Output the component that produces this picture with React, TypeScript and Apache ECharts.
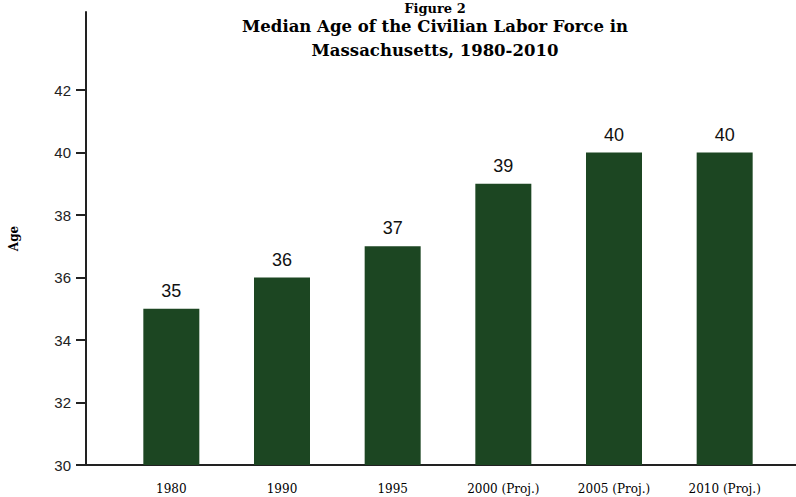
import React, { useEffect, useRef } from "react";
import * as echarts from "echarts";

const categories = ["1980", "1990", "1995", "2000 (Proj.)", "2005 (Proj.)", "2010 (Proj.)"];
const medianAge = [35, 36, 37, 39, 40, 40];
const yTicks = [30, 32, 34, 36, 38, 40, 42];
const figureLabel = "Figure 2";
const titleLines = ["Median Age of the Civilian Labor Force in", "Massachusetts, 1980-2010"];

const AXIS_COLOR = "#222";

export default function App() {
  const ref = useRef<HTMLDivElement>(null);
  useEffect(() => {
    if (!ref.current) return;
    const chart = echarts.init(ref.current, undefined, { renderer: "svg" });
    const titleStyle = {
      fontFamily: "DejaVu Serif",
      fontWeight: "bold" as const,
      fontSize: 16.5,
      lineHeight: 24,
      color: "#000",
    };
    chart.setOption({
      animation: false,
      backgroundColor: "#fff",
      title: [
        {
          text: figureLabel,
          left: 435,
          top: 1,
          textAlign: "center",
          padding: 0,
          textStyle: { ...titleStyle, fontSize: 13, lineHeight: 14 },
        },
        {
          text: titleLines.join("\n"),
          left: 435,
          top: 14,
          textAlign: "center",
          padding: 0,
          textStyle: titleStyle,
        },
      ],
      grid: { left: 111, right: 16, top: 12, bottom: 32 },
      xAxis: {
        type: "category",
        data: categories,
        axisLine: { lineStyle: { color: AXIS_COLOR, width: 2 } },
        axisTick: { show: false },
        axisLabel: {
          margin: 18,
          fontFamily: "DejaVu Serif",
          fontSize: 12,
          color: "#000",
        },
      },
      yAxis: {
        type: "value",
        min: 30,
        max: 44.5,
        interval: 2,
        offset: 30,
        name: "Age",
        nameLocation: "middle",
        nameRotate: 90,
        nameGap: 66,
        nameTextStyle: {
          fontFamily: "DejaVu Serif",
          fontWeight: "bold",
          fontSize: 12,
          color: "#000",
        },
        splitLine: { show: false },
        axisLine: { show: true, lineStyle: { color: AXIS_COLOR, width: 2 } },
        axisTick: {
          show: true,
          length: 10,
          customValues: yTicks,
          lineStyle: { color: AXIS_COLOR, width: 2 },
        },
        axisLabel: {
          customValues: yTicks,
          margin: 15,
          fontFamily: "Liberation Sans",
          fontSize: 15,
          color: "#222",
        },
      },
      series: [
        {
          type: "bar",
          data: medianAge,
          barWidth: 56,
          itemStyle: { color: "#1c4622" },
          label: {
            show: true,
            position: "top",
            distance: 9,
            fontFamily: "Liberation Sans",
            fontSize: 18,
            color: "#111",
          },
        },
      ],
      graphic: [
        {
          type: "line",
          shape: { x1: 80, y1: 465, x2: 118, y2: 465 },
          style: { stroke: AXIS_COLOR, lineWidth: 2 },
        },
        {
          type: "line",
          shape: { x1: 775, y1: 465, x2: 796, y2: 465 },
          style: { stroke: AXIS_COLOR, lineWidth: 2 },
        },
      ],
    });
    return () => chart.dispose();
  }, []);
  return <div ref={ref} style={{ width: 796, height: 497, position: "absolute", left: 0, top: 0 }} />;
}
